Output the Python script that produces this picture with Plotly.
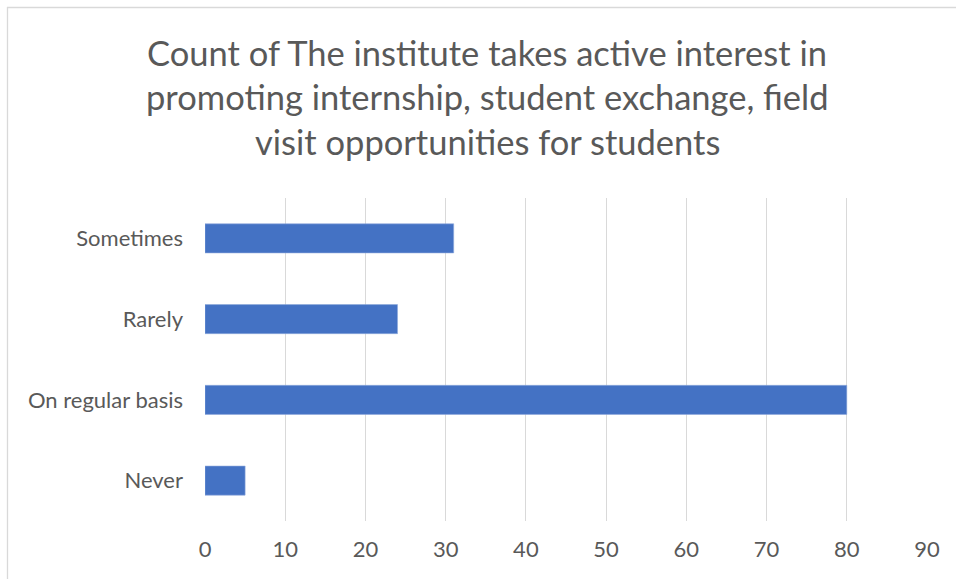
import plotly.graph_objects as go

categories = ["Never", "On regular basis", "Rarely", "Sometimes"]
counts = [5, 80, 24, 31]
x_ticks = [0, 10, 20, 30, 40, 50, 60, 70, 80, 90]

title_lines = ["Count of The institute takes active interest in",
               "promoting internship, student exchange, field",
               "visit opportunities for students"]

W, H = 956, 579
ml, mr, mt, mb = 205, 29, 198, 58
PW, PH = W - ml - mr, H - mt - mb
FONT = "Lato"


def px_x(x):
    return (x - ml) / PW


def px_y(y):
    return (H - mb - y) / PH


fig = go.Figure(go.Bar(
    y=categories, x=counts, orientation="h",
    marker=dict(color="#4472C4", line=dict(color="#8FAADC", width=0.6)),
    width=0.36,
))

annotations = []
for i, line in enumerate(title_lines):
    annotations.append(dict(
        text=line, xref="paper", yref="paper", x=px_x(487), y=px_y(53 + 44 * i),
        xanchor="center", yanchor="middle", showarrow=False,
        font=dict(family=FONT, size=34.5, color="#595959")))

fig.update_layout(
    width=W, height=H,
    margin=dict(l=ml, r=mr, t=mt, b=mb, autoexpand=False),
    paper_bgcolor="white", plot_bgcolor="white",
    showlegend=False,
    font=dict(family=FONT, color="#595959"),
    annotations=annotations,
    xaxis=dict(range=[0, 90], tickvals=x_ticks, ticktext=[str(v) for v in x_ticks],
               showgrid=True, gridcolor="#D9D9D9", gridwidth=1.3,
               zeroline=False, showline=False, ticks="",
               tickfont=dict(size=22, color="#595959"), ticklabelstandoff=13),
    yaxis=dict(categoryorder="array", categoryarray=categories,
               range=[-0.5, 3.5], showgrid=False, zeroline=False, showline=False,
               ticks="", tickfont=dict(size=22, color="#595959"), ticklabelstandoff=21),
    shapes=[
        dict(type="line", xref="paper", yref="paper",
             x0=px_x(7), x1=px_x(1000), y0=px_y(7.5), y1=px_y(7.5),
             line=dict(color="#D9D9D9", width=1.3)),
        dict(type="line", xref="paper", yref="paper",
             x0=px_x(7.5), x1=px_x(7.5), y0=px_y(7), y1=px_y(700),
             line=dict(color="#D9D9D9", width=1.3)),
    ],
)

fig.write_html("out.html", config={"displayModeBar": False},
               post_script="document.body.style.margin='0';")
